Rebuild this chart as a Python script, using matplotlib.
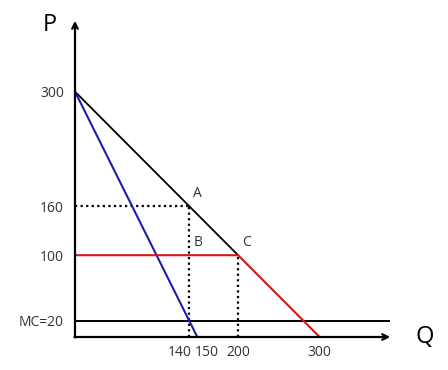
import matplotlib.pyplot as plt
import matplotlib.transforms as mtransforms

plt.rcParams['font.family'] = ['Open Sans', 'DejaVu Sans']

# demand, marginal revenue, kinked curve, cost
demand_q = [0, 200]
demand_p = [300, 100]
mr_q = [0, 150]
mr_p = [300, 0]
kink_q = [0, 200, 300]
kink_p = [100, 100, 0]
mc_q = [0, 385]
mc_p = [20, 20]

# points of interest
pt_a = (140, 160)
pt_b = (140, 100)
pt_c = (200, 100)

yticks = [300, 160, 100, 20]
ytick_labels = ['300', '160', '100', 'MC=20']
xticks = [140, 150, 200, 300]
xtick_labels = ['140', '150', '200', '300']

fig = plt.figure(figsize=(4.48, 3.70), dpi=100)
ax = fig.add_axes([75 / 448, 33 / 370, 318 / 448, 319 / 370])
ax.set_xlim(0, 390)
ax.set_ylim(0, 390)
for s in ax.spines.values():
    s.set_visible(False)

# axes with arrows
ax.annotate('', xy=(390, 0), xytext=(-4, 0),
            arrowprops=dict(arrowstyle='->', lw=1.6, color='black'),
            annotation_clip=False)
ax.annotate('', xy=(0, 390), xytext=(0, -4),
            arrowprops=dict(arrowstyle='->', lw=1.6, color='black'),
            annotation_clip=False)

# dotted guides
dots = (0, (1, 1.5))
ax.plot([0, pt_a[0]], [pt_a[1], pt_a[1]], color='black', ls=dots, lw=1.6)
ax.plot([pt_a[0], pt_a[0]], [0, pt_a[1]], color='black', ls=dots, lw=1.6)
ax.plot([pt_c[0], pt_c[0]], [0, pt_c[1]], color='black', ls=dots, lw=1.6)

ax.plot(mc_q, mc_p, color='black', lw=1.4)
ax.plot(demand_q, demand_p, color='black', lw=1.3)
ax.plot(mr_q, mr_p, color='#1c1cb0', lw=1.5)
ax.plot(kink_q, kink_p, color='#d01818', lw=1.5)

ax.set_xticks(xticks)
ax.set_xticklabels(xtick_labels)
ax.set_yticks(yticks)
ax.set_yticklabels(ytick_labels)
ax.tick_params(length=0, labelsize=10, colors='#333333')
ax.tick_params(axis='x', pad=6)
ax.tick_params(axis='y', pad=8)

# 140 and 150 sit close together: push them apart
xl = ax.get_xticklabels()
xl[0].set_ha('right')
xl[0].set_transform(xl[0].get_transform() + mtransforms.ScaledTranslation(3 / 100, 0, fig.dpi_scale_trans))
xl[1].set_ha('left')
xl[1].set_transform(xl[1].get_transform() + mtransforms.ScaledTranslation(-3 / 100, 0, fig.dpi_scale_trans))

for name, (q, p) in zip(['A', 'B', 'C'], [pt_a, pt_b, pt_c]):
    ax.annotate(name, (q, p), xytext=(3, 4), textcoords='offset points',
                fontsize=10, color='#333333', ha='left', va='bottom')

fig.text(50 / 448, 1 - 25 / 370, 'P', fontsize=17, ha='center', va='center')
fig.text(425 / 448, 1 - 337 / 370, 'Q', fontsize=17, ha='center', va='center')

fig.savefig('out.png', dpi=100)
